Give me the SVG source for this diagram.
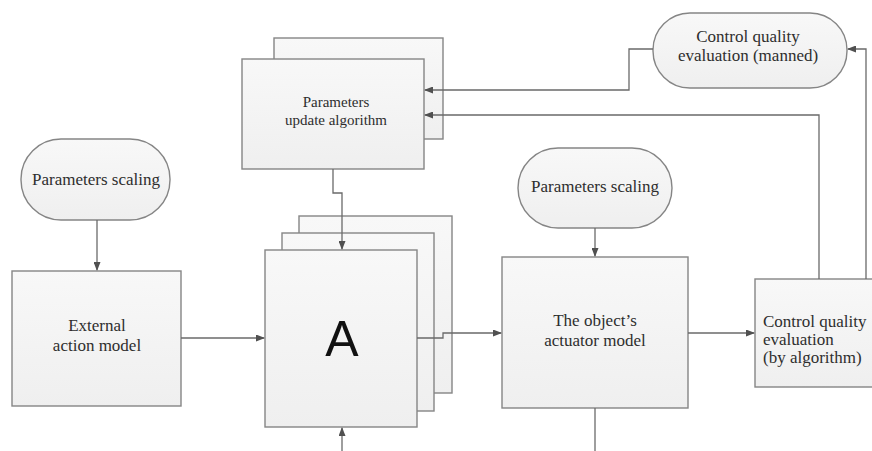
<svg xmlns="http://www.w3.org/2000/svg" width="872" height="451" viewBox="0 0 872 451">
<style>
.box{fill:url(#g);stroke:#858585;stroke-width:1.4}
text.t{font-family:'Liberation Serif','DejaVu Serif',serif;font-size:17px;fill:#2e2e2e;text-anchor:middle}
text.ts{font-size:15px}
text.tl{text-anchor:start}
text.big{font-family:'Liberation Sans',Arial,sans-serif;font-size:50px;fill:#111;text-anchor:middle}
.c{fill:none;stroke:#6a6a6a;stroke-width:1.3}
.ca{marker-end:url(#ah)}
</style>
<defs>
<linearGradient id="g" x1="0" y1="0" x2="0" y2="1">
<stop offset="0" stop-color="#f8f8f8"/>
<stop offset="1" stop-color="#efefef"/>
</linearGradient>
<marker id="ah" markerWidth="9" markerHeight="7" refX="8" refY="3.5" orient="auto" markerUnits="userSpaceOnUse">
<path d="M0,0 L9,3.5 L0,7 z" fill="#505050"/>
</marker>
</defs>
<rect width="872" height="451" fill="#fff"/>

<g id="scaling-left">
<rect class="box" x="21" y="139" width="149" height="81" rx="40" ry="40"/>
<text class="t" font-family="Liberation Serif, serif" x="96" y="185">Parameters scaling</text>
</g>

<g id="external-action-model">
<rect class="box" x="12" y="271" width="169" height="135"/>
<text class="t" font-family="Liberation Serif, serif" x="97" y="331">External</text>
<text class="t" font-family="Liberation Serif, serif" x="97" y="351">action model</text>
</g>

<g id="parameters-update-algorithm">
<rect class="box" x="274" y="38" width="169" height="101"/>
<rect class="box" x="242" y="59" width="182" height="110"/>
<text class="t ts" font-family="Liberation Serif, serif" x="336" y="107">Parameters</text>
<text class="t ts" font-family="Liberation Serif, serif" x="336" y="125">update algorithm</text>
</g>

<g id="block-a">
<rect class="box" x="299" y="216" width="153" height="177"/>
<rect class="box" x="282" y="233" width="152" height="178"/>
<rect class="box" x="265" y="250" width="152" height="177"/>
<text class="big" x="342" y="356">A</text>
</g>

<g id="scaling-right">
<rect class="box" x="518" y="148" width="154" height="80" rx="40" ry="40"/>
<text class="t" font-family="Liberation Serif, serif" x="595" y="192">Parameters scaling</text>
</g>

<g id="actuator-model">
<rect class="box" x="502" y="257" width="186" height="151"/>
<text class="t" font-family="Liberation Serif, serif" x="595" y="326">The object’s</text>
<text class="t" font-family="Liberation Serif, serif" x="595" y="346">actuator model</text>
</g>

<g id="quality-algorithm">
<rect class="box" x="755" y="279" width="125" height="108"/>
<text class="t tl" font-family="Liberation Serif, serif" x="763" y="327">Control quality</text>
<text class="t tl" font-family="Liberation Serif, serif" x="763" y="345">evaluation</text>
<text class="t tl" font-family="Liberation Serif, serif" x="763" y="363">(by algorithm)</text>
</g>

<g id="quality-manned">
<rect class="box" x="653" y="13" width="194" height="75" rx="37" ry="37"/>
<text class="t" font-family="Liberation Serif, serif" x="748" y="42">Control quality</text>
<text class="t" font-family="Liberation Serif, serif" x="748" y="61">evaluation (manned)</text>
</g>

<g id="connectors">
<path class="c ca" d="M97,220 V270"/>
<path class="c ca" d="M181,338 H264"/>
<path class="c ca" d="M333,169 V193 H342 V249"/>
<path class="c ca" d="M342,451 V428"/>
<path class="c ca" d="M417,338 H443 V333 H501"/>
<path class="c ca" d="M595,228 V256"/>
<path class="c" d="M595,408 V451"/>
<path class="c ca" d="M688,333 H754"/>
<path class="c ca" d="M819,279 V115 H425"/>
<path class="c ca" d="M866,279 V49 H848"/>
<path class="c ca" d="M653,49 H629 V90 H425"/>
</g>
</svg>
